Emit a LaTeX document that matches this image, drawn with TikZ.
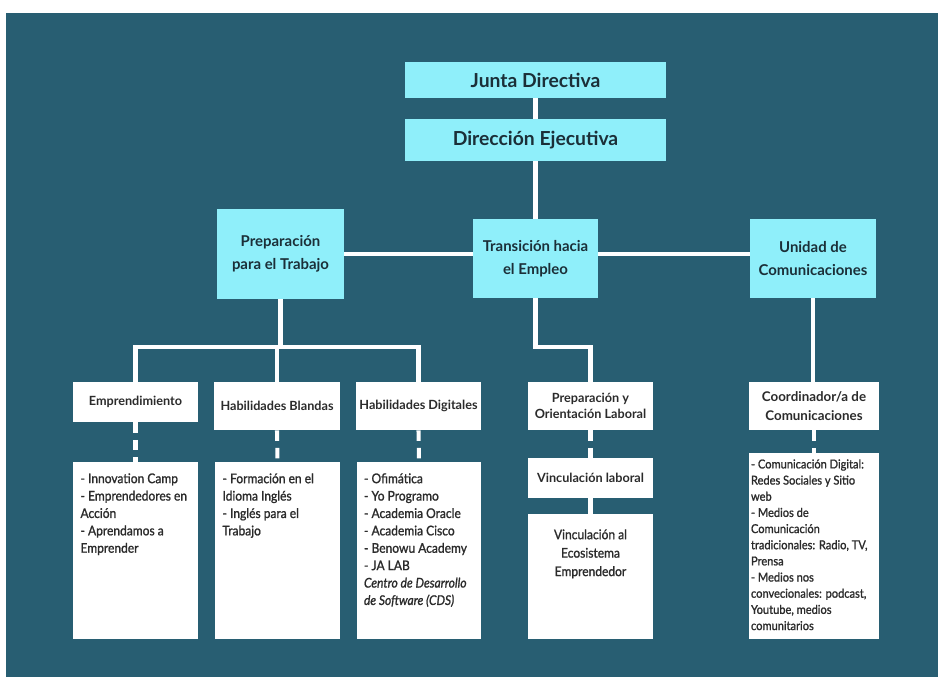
\documentclass[tikz,border=0pt]{standalone}
\usepackage{fontspec}
\setmainfont{Lato}
\newfontfamily\listfont[FakeStretch=0.9,FakeBold=1.2]{Lato}
\usepackage{xcolor}
\usepackage{tikz}
\usetikzlibrary{calc}
\definecolor{bgteal}{HTML}{285E72}
\definecolor{cyanbox}{HTML}{8FEFFA}
\definecolor{ink}{HTML}{1B2F38}
\definecolor{dark}{HTML}{2B2B2B}
\tikzset{
  topbox/.style={fill=cyanbox, text=ink, inner sep=0pt, font=\fontsize{11}{13}\selectfont\bfseries},
  unitbox/.style={fill=cyanbox, text=ink, inner sep=0pt, align=center, font=\fontsize{8.5}{13}\selectfont\bfseries},
  areabox/.style={fill=white, text=dark, inner sep=0pt, align=center, font=\fontsize{7.2}{9}\selectfont\bfseries},
  listbox/.style={fill=white, text=dark, anchor=north, inner xsep=0.15cm, inner ysep=0.22cm, font=\listfont\fontsize{7.6}{9.9}\selectfont},
  link/.style={draw=white, line width=2.3pt},
  dlink/.style={link, dash pattern=on 6pt off 4pt}
}
\newcommand{\ListIn}[3]{\parbox[t][#2][t]{#1}{\raggedright #3}}

\begin{document}
\begin{tikzpicture}[x=0.02cm,y=-0.02cm]
  \useasboundingbox (0,0) rectangle (938,677);
  \fill[white] (0,0) rectangle (938,677);
  \fill[bgteal] (6,13) rectangle (938,677);

  % top levels
  \node[topbox, minimum width=5.22cm, minimum height=0.72cm] (jd) at (535.5,80) {Junta Directiva};
  \node[topbox, minimum width=5.22cm, minimum height=0.84cm] (de) at (535.5,140) {Dirección Ejecutiva};

  \node[unitbox, minimum width=2.54cm, minimum height=1.8cm] (ppt) at (280.5,254) {Preparación\\para el Trabajo};
  \node[unitbox, minimum width=2.5cm, minimum height=1.58cm] (the) at (535.5,258.5) {Transición hacia\\el Empleo};
  \node[unitbox, minimum width=2.52cm, minimum height=1.58cm] (uc) at (813,258.5) {Unidad de\\Comunicaciones};

  % areas
  \node[areabox, minimum width=2.5cm, minimum height=0.8cm] (emp) at (135.5,402) {Emprendimiento};
  \node[areabox, minimum width=2.52cm, minimum height=0.96cm] (hb) at (277,406) {Habilidades Blandas};
  \node[areabox, minimum width=2.5cm, minimum height=0.96cm] (hd) at (418.5,406) {Habilidades Digitales};
  \node[areabox, minimum width=2.5cm, minimum height=0.96cm] (pol) at (590.5,406) {Preparación y\\Orientación Laboral};
  \node[areabox, minimum width=2.5cm, minimum height=0.8cm] (vl) at (590.5,478) {Vinculación laboral};
  \node[areabox, minimum width=2.6cm, minimum height=0.96cm, font=\fontsize{7.6}{11}\selectfont\bfseries] (coord) at (814,406) {Coordinador/a de\\Comunicaciones};

  % lists
  \node[listbox] (empd) at (135.5,462) {\ListIn{2.2cm}{3.1cm}{%
    - Innovation Camp\\- Emprendedores en\\Acción\\- Aprendamos a\\Emprender}};
  \node[listbox] (hbd) at (277.5,462) {\ListIn{2.2cm}{3.1cm}{%
    - Formación en el\\Idioma Inglés\\- Inglés para el\\Trabajo}};
  \node[listbox] (hdd) at (419,462) {\ListIn{2.2cm}{3.1cm}{%
    - Ofimática\\- Yo Programo\\- Academia Oracle\\- Academia Cisco\\- Benowu Academy\\- JA LAB\\
    \itshape Centro de Desarrollo\\de Software (CDS)}};
  \node[listbox, inner ysep=0.3cm, font=\listfont\fontsize{7.6}{10.5}\selectfont] (vee) at (590.5,514) {\ListIn{2.2cm}{1.9cm}{%
    \centering Vinculación al\\Ecosistema\\Emprendedor}};
  \node[listbox, inner xsep=0.04cm, inner ysep=0.12cm, font=\listfont\fontsize{7}{9.2}\selectfont] (cd) at (814,453) {\ListIn{2.52cm}{3.48cm}{%
    - Comunicación Digital:\\Redes Sociales y Sitio\\web\\- Medios de\\Comunicación\\tradicionales: Radio, TV,\\Prensa\\
    - Medios nos\\convecionales: podcast,\\Youtube, medios\\comunitarios}};

  % connectors
  \coordinate (busL) at (0,347);
  \draw[link] (jd.south) -- (de.north);
  \draw[link] (de.south) -- (the.north);
  \draw[link] (ppt.east) -- (ppt.east -| the.west);
  \draw[link] (the.east |- ppt.east) -- (ppt.east -| uc.west);
  \draw[link] (ppt.south) -- (ppt.south |- busL);
  \draw[link] (emp.north) -- (emp.north |- busL) -- (hd.north |- busL) -- (hd.north);
  \draw[link] (hb.north) -- (hb.north |- busL);
  \draw[link] (the.south) -- (the.south |- busL) -- (pol.north |- busL) -- (pol.north);
  \draw[link] (uc.south) -- (uc.south |- coord.north);
  \draw[dlink] (emp.south) -- (empd.north);
  \draw[dlink] (hb.south) -- (hbd.north);
  \draw[dlink] (hd.south) -- (hdd.north);
  \draw[dlink] (pol.south) -- (vl.north);
  \draw[link] (vl.south) -- (vee.north);
  \draw[dlink] (coord.south) -- (cd.north);
\end{tikzpicture}
\end{document}
